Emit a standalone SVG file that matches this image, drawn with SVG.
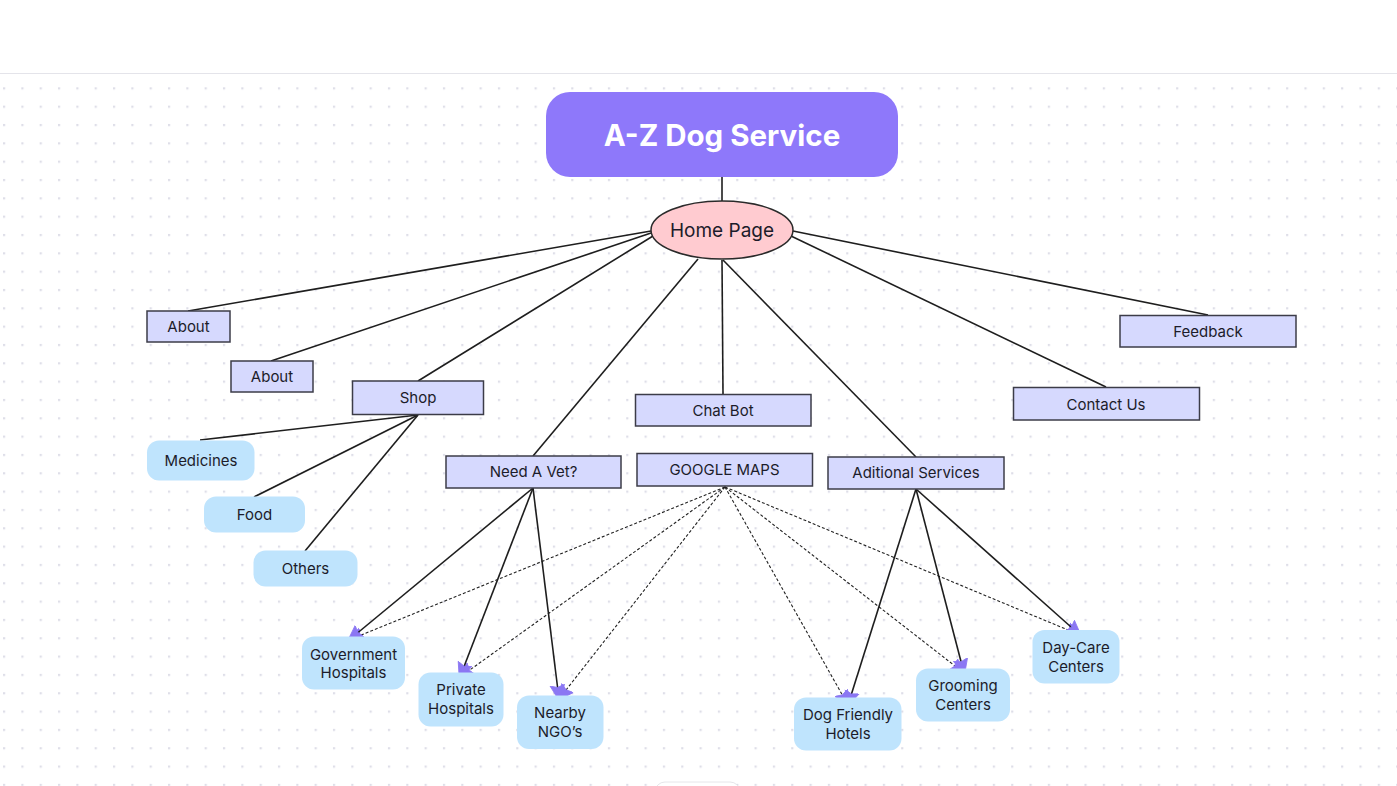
<svg xmlns="http://www.w3.org/2000/svg" width="1397" height="786" viewBox="0 0 1397 786">
<style>
.bg{fill:#ffffff}
.box rect{fill:#d6d9fe;stroke:#3c3c48;stroke-width:1.5}
.leaf rect{fill:#bfe4fd;stroke:none}
text{font-family:Inter,"DejaVu Sans",sans-serif;fill:#1c1c2a;text-anchor:middle;dominant-baseline:central}
.t15{font-size:15px}
.conn line{stroke:#1e1e1e;stroke-width:1.6;fill:none}
.conn .d{stroke:#222;stroke-width:1.1;stroke-dasharray:3 2}
</style>
<defs>
<pattern id="dots" x="3" y="87.3" width="18.33" height="18.33" patternUnits="userSpaceOnUse">
<rect x="0" y="0" width="2.2" height="2.2" fill="#dedee8"/>
</pattern>
<marker id="arr" viewBox="0 0 12 12" refX="10.5" refY="6" markerWidth="16" markerHeight="16" markerUnits="userSpaceOnUse" orient="auto">
<path d="M0,0.5 L12,6 L0,11.5 L1.8,6 Z" fill="#8b77f3" stroke="#8b77f3" stroke-width="0.6" stroke-linejoin="round"/>
</marker>
</defs>
<rect class="bg" x="0" y="0" width="1397" height="786"/>
<rect x="0" y="74" width="1397" height="712" fill="url(#dots)"/>
<line x1="0" y1="73.5" x2="1397" y2="73.5" stroke="#e4e4ea" stroke-width="1.2"/>
<rect x="655" y="782" width="85" height="20" rx="10" fill="#ffffff" stroke="#e6e6ea" stroke-width="1"/>

<g id="connectors" class="conn">
<line x1="722" y1="177" x2="722" y2="201"/>
<line x1="651" y1="231" x2="188" y2="311"/>
<line x1="651" y1="233" x2="271" y2="361"/>
<line x1="653" y1="236" x2="418" y2="381"/>
<line x1="698" y1="259" x2="533" y2="456"/>
<line x1="722" y1="260" x2="723" y2="394"/>
<line x1="723" y1="260" x2="916" y2="457"/>
<line x1="791" y1="236" x2="1106" y2="387"/>
<line x1="793" y1="231" x2="1208" y2="315"/>
<line x1="418" y1="415" x2="200" y2="440"/>
<line x1="418" y1="415" x2="254" y2="497"/>
<line x1="418" y1="415" x2="305" y2="551"/>
<line class="d" x1="725" y1="487" x2="349" y2="640" marker-end="url(#arr)"/>
<line class="d" x1="725" y1="487" x2="460" y2="677" marker-end="url(#arr)"/>
<line class="d" x1="725" y1="487" x2="559" y2="699" marker-end="url(#arr)"/>
<line class="d" x1="725" y1="487" x2="848" y2="705" marker-end="url(#arr)"/>
<line class="d" x1="725" y1="487" x2="964" y2="673" marker-end="url(#arr)"/>
<line class="d" x1="725" y1="487" x2="1080" y2="635" marker-end="url(#arr)"/>
<line x1="533" y1="488" x2="349" y2="640" marker-end="url(#arr)"/>
<line x1="533" y1="488" x2="460" y2="677" marker-end="url(#arr)"/>
<line x1="533" y1="488" x2="559" y2="699" marker-end="url(#arr)"/>
<line x1="916" y1="489" x2="848" y2="705" marker-end="url(#arr)"/>
<line x1="916" y1="489" x2="964" y2="673" marker-end="url(#arr)"/>
<line x1="916" y1="489" x2="1080" y2="635" marker-end="url(#arr)"/>
</g>

<g id="title">
<rect x="546" y="92" width="352" height="85" rx="24" fill="#8e78fa"/>
<text x="722" y="135" style="font-size:29.5px;font-weight:700;fill:#ffffff">A-Z Dog Service</text>
</g>
<g id="home">
<ellipse cx="722" cy="230" rx="71" ry="29" fill="#ffcbd0" stroke="#2a2a2a" stroke-width="1.5"/>
<text x="722" y="230" style="font-size:19px">Home Page</text>
</g>

<g id="about1" class="box"><rect x="147" y="311" width="83" height="31"/><text class="t15" x="188.5" y="326.5">About</text></g>
<g id="about2" class="box"><rect x="231" y="361" width="82" height="31"/><text class="t15" x="272" y="376.5">About</text></g>
<g id="shop" class="box"><rect x="352.5" y="381" width="131" height="33.5"/><text class="t15" x="418" y="397.5">Shop</text></g>
<g id="chatbot" class="box"><rect x="635.5" y="394.5" width="175.5" height="31.5"/><text class="t15" x="723" y="410">Chat Bot</text></g>
<g id="contact" class="box"><rect x="1013.5" y="387.5" width="186" height="32.5"/><text class="t15" x="1106" y="404">Contact Us</text></g>
<g id="feedback" class="box"><rect x="1120" y="315.5" width="176" height="31.5"/><text class="t15" x="1208" y="331">Feedback</text></g>
<g id="vet" class="box"><rect x="446" y="456" width="175" height="32"/><text class="t15" x="533.5" y="471.5">Need A Vet?</text></g>
<g id="maps" class="box"><rect x="637" y="453.5" width="175.5" height="32.5"/><text class="t15" x="724.5" y="469">GOOGLE MAPS</text></g>
<g id="additional" class="box"><rect x="828" y="457" width="176" height="32"/><text class="t15" x="916" y="472.5">Aditional Services</text></g>

<g id="medicines" class="leaf"><rect x="147" y="440.5" width="107.5" height="40" rx="12"/><text class="t15" x="201" y="460.5">Medicines</text></g>
<g id="food" class="leaf"><rect x="204" y="496.5" width="101" height="36" rx="12"/><text class="t15" x="254.5" y="514.5">Food</text></g>
<g id="others" class="leaf"><rect x="253.5" y="550.5" width="104" height="36" rx="12"/><text class="t15" x="305.5" y="568.5">Others</text></g>

<g id="gov" class="leaf"><rect x="302" y="636.5" width="103" height="53" rx="12"/><text class="t15" x="353.5" y="654.5">Government</text><text class="t15" x="353.5" y="672.5">Hospitals</text></g>
<g id="private" class="leaf"><rect x="418.5" y="672.5" width="85" height="54" rx="12"/><text class="t15" x="461" y="689.5">Private</text><text class="t15" x="461" y="708.5">Hospitals</text></g>
<g id="ngo" class="leaf"><rect x="517" y="695.5" width="86.5" height="53.5" rx="12"/><text class="t15" x="560" y="712.5">Nearby</text><text class="t15" x="560" y="731">NGO’s</text></g>
<g id="hotels" class="leaf"><rect x="794" y="697.5" width="107.5" height="53" rx="12"/><text class="t15" x="848" y="714.5">Dog Friendly</text><text class="t15" x="848" y="733">Hotels</text></g>
<g id="grooming" class="leaf"><rect x="916" y="668.5" width="94" height="53" rx="12"/><text class="t15" x="963" y="685.5">Grooming</text><text class="t15" x="963" y="704">Centers</text></g>
<g id="daycare" class="leaf"><rect x="1032.5" y="630" width="87" height="53.5" rx="12"/><text class="t15" x="1076" y="647">Day-Care</text><text class="t15" x="1076" y="666">Centers</text></g>
</svg>
